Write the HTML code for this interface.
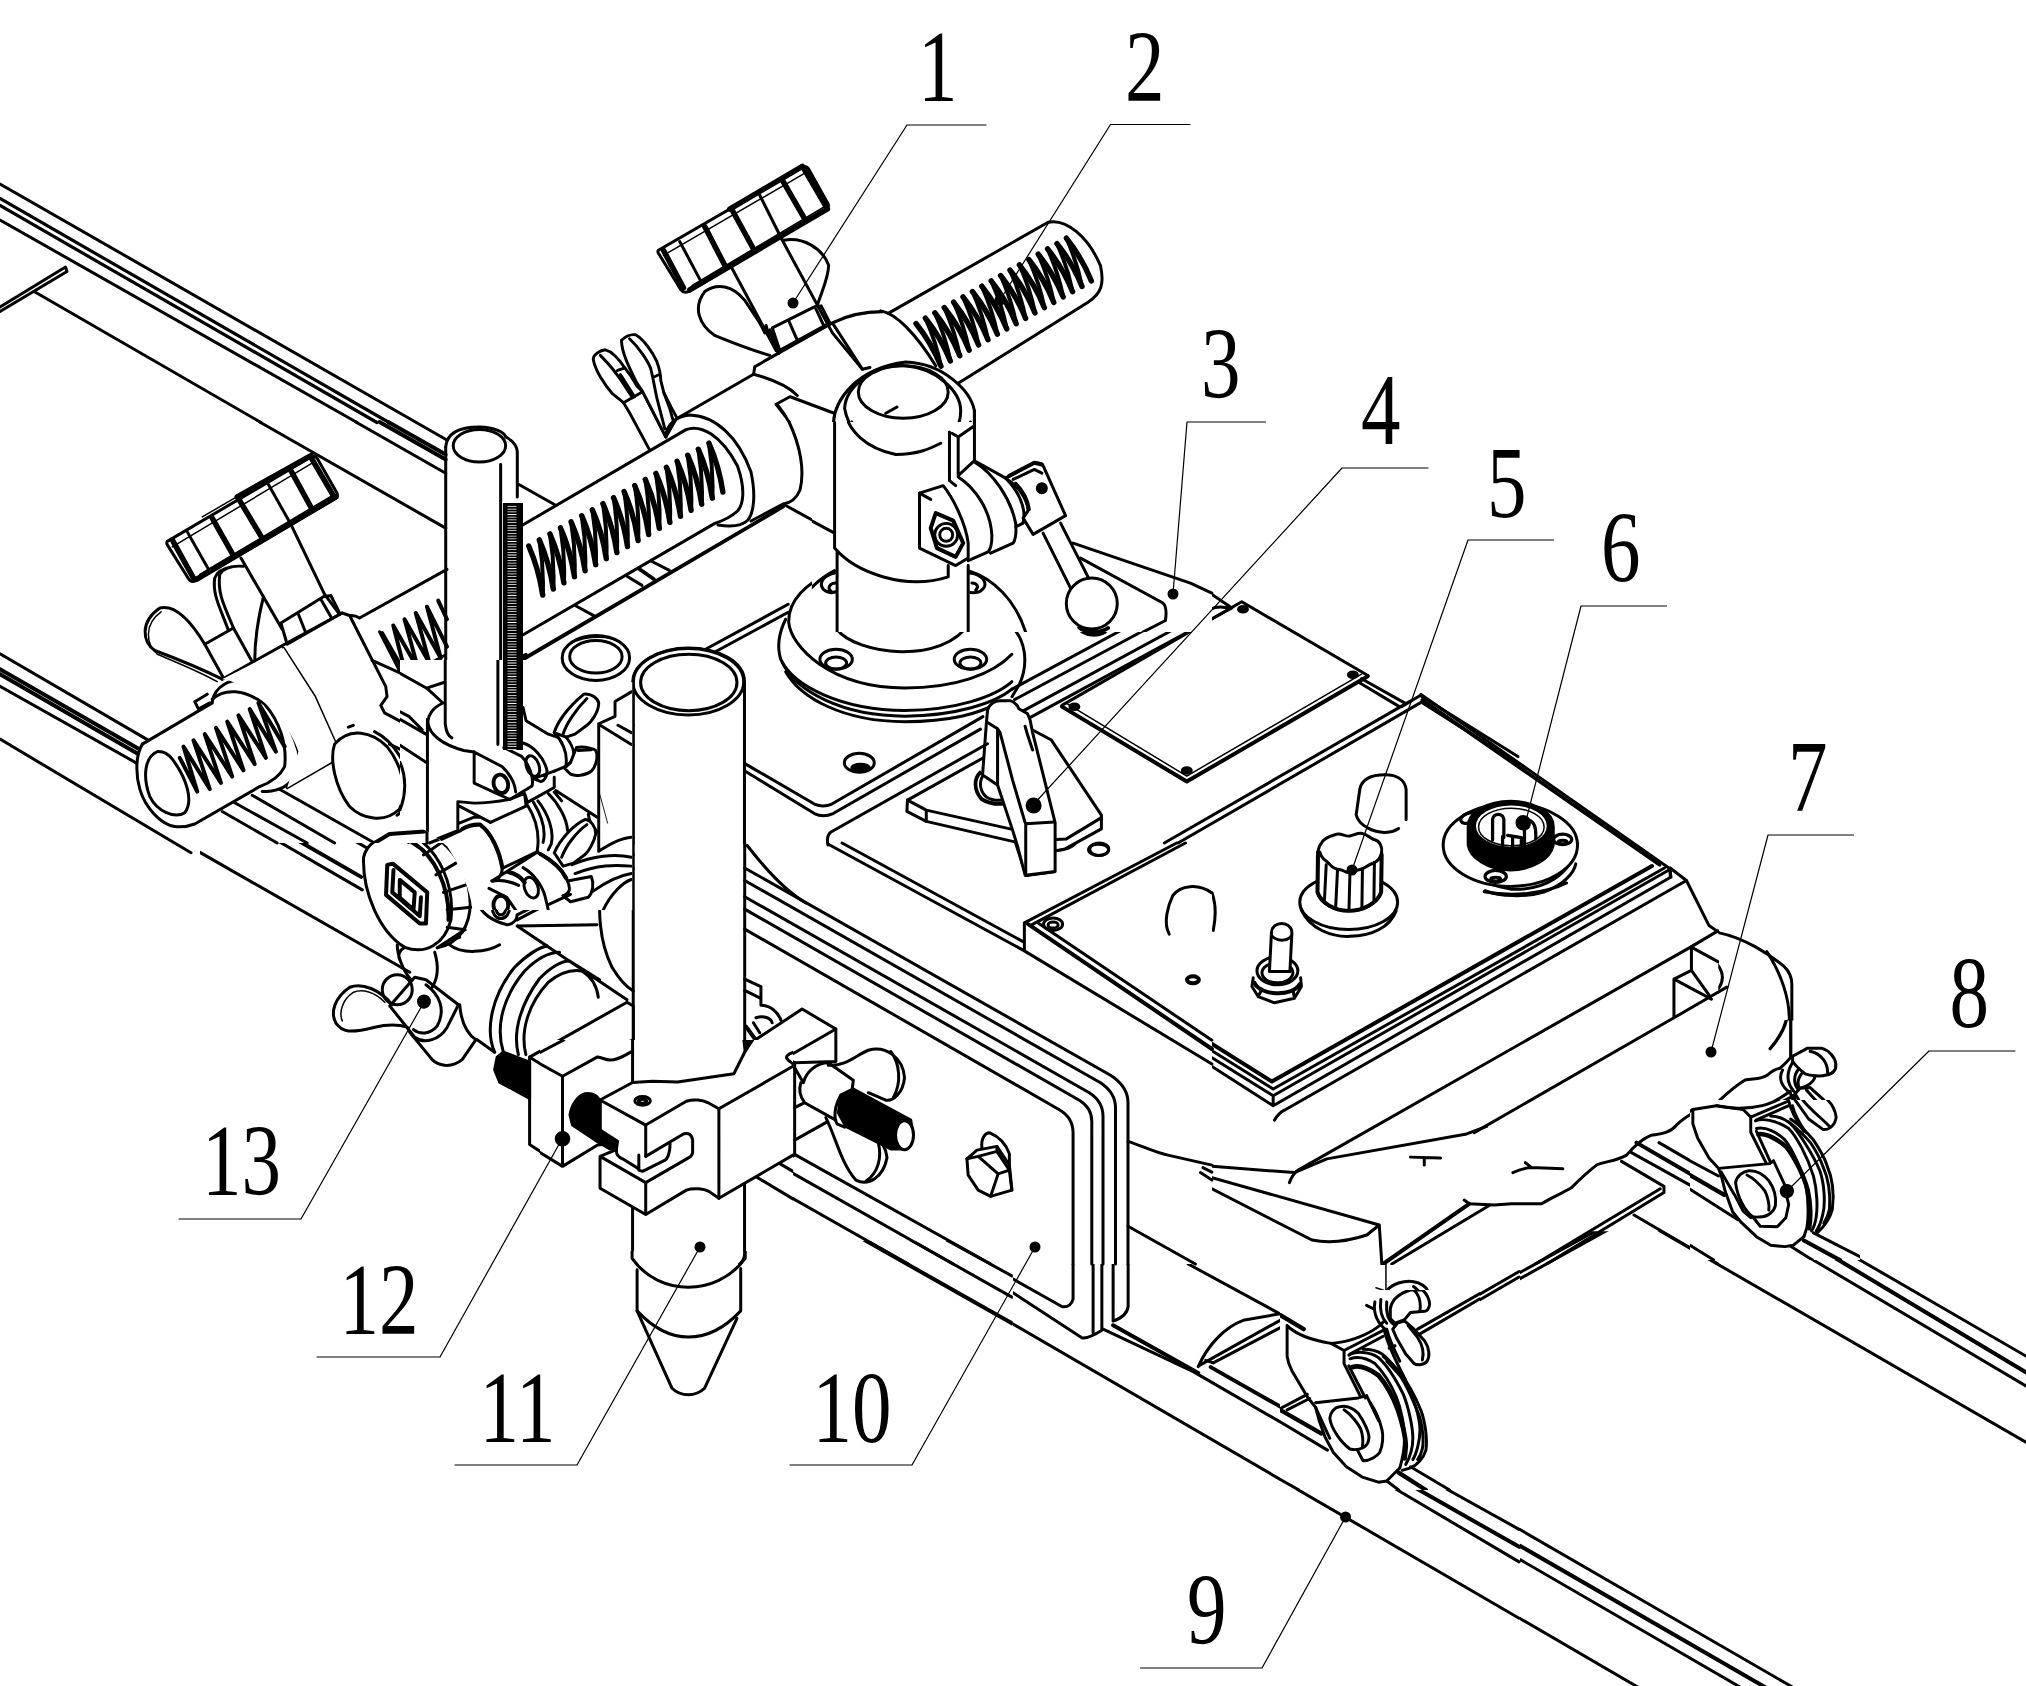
<!DOCTYPE html>
<html><head><meta charset="utf-8"><title>Figure</title>
<style>
html,body{margin:0;padding:0;background:#fff;}
svg{display:block}
.l{fill:none;stroke:#000;stroke-width:3;stroke-linecap:round;stroke-linejoin:round}
.t{fill:none;stroke:#000;stroke-width:1.2;stroke-linecap:round;stroke-linejoin:round}
.k{fill:none;stroke:#000;stroke-width:3.8;stroke-linecap:round;stroke-linejoin:round}
.z g, .z{fill:none;stroke:#000;stroke-width:12;stroke-linecap:round;stroke-linejoin:round}
.z .k{stroke-width:16}
.z .h{stroke-width:6}
.z .w{fill:#fff}
.z .b{fill:#000}
.w{fill:#fff}
text{font-family:"Liberation Serif","DejaVu Serif",serif;font-size:102px;fill:#000;stroke:none}
</style></head><body>
<svg width="2026" height="1686" viewBox="0 0 2026 1686">
<rect width="2026" height="1686" fill="#fff"/>
<!-- 10_rails_topleft.svg -->
<g class="l">
<path d="M0,184 L446,439.5 M0,220 L357,422.5 M35,292 L261,422.5 M0,307 L65.5,267 L67,271.5 L0,311.5"/>
<path d="M0,198.5 L389,422.5 M0,205.5 L377,422.5" style="stroke-width:3.2"/>
</g>

<!-- 11_tile_507_0.svg -->
<clipPath id="c11"><path d="M0,0 H2030 V843 H796 V1690 H0 Z"/></clipPath>
<g class="z" transform="translate(507 0) scale(0.2503)">
<!-- knob 1 -->
<path d="M605,1000 L1180,668 Q1195,660 1205,675 L1283,815 Q1288,832 1272,840 L725,1165 Q705,1172 695,1158 L607,1015 Q600,1006 605,1000 Z"/>
<path class="k" style="stroke-width:22" d="M625,1000 L705,1150 M790,905 L870,1060 M900,840 L985,995 M1100,720 L1190,875 M1185,672 L1275,825 M730,1158 L1280,835 M890,835 L1180,665"/>
<path class="h" d="M740,1140 L1270,825 M625,1020 L1185,695"/>
<path d="M690,965 L770,1115 M1010,780 L1100,960 L1300,1330 L1420,1475 M895,1065 L1075,1400"/>
<!-- wing nut -->
<path d="M1050,1420 C950,1390 880,1360 830,1340 C770,1300 740,1230 790,1165 C840,1130 900,1140 950,1200 L1010,1290 L1030,1330"/>
<path d="M1105,960 C1180,945 1260,990 1285,1060 C1285,1110 1255,1170 1240,1220"/>
<path d="M1010,1290 L1045,1340 L1035,1300"/>
<!-- hex nut -->
<path d="M1060,1310 L1230,1225 L1255,1222 L1290,1290 L1090,1400 Z M1125,1280 L1160,1360 M1230,1225 L1265,1300"/>
<path class="k" d="M1050,1320 L1085,1410"/>
<!-- bracket -->
<path d="M990,1465 L1060,1425 L1300,1290 C1360,1260 1420,1245 1500,1245 M990,1465 L985,1495 C1040,1510 1120,1540 1160,1580 M985,1495 L686,1668 M1300,1290 L1420,1475 L1450,1468 M1075,1615 L1130,1585 M1075,1615 L1110,1660"/>

</g>

<!-- 12_tile_706_211.svg -->
<clipPath id="c12"><rect x="0" y="0" width="2030" height="845"/></clipPath>
<g class="z" clip-path="url(#c12)" transform="translate(706 211) scale(0.2497)">
<!-- upper right rod -->
<path d="M730,410 L1370,45 C1440,30 1530,100 1580,220 C1595,290 1585,330 1530,365 L1010,690"/>
<!-- connector block -->
<path d="M700,400 C760,410 840,490 920,620 M340,745 L500,805 L515,810 M285,775 C330,830 380,920 390,1020 C390,1100 350,1160 290,1180 L0,1350"/>
<!-- column top -->
<path class="w" d="M510,860 C510,760 600,630 800,605 C950,610 1060,720 1075,800 L1075,1000 L515,1000 Z"/>
<path d="M555,790 C560,700 680,610 800,620 C920,630 1020,720 1020,800 C1020,850 1000,880 985,890 M555,790 C570,880 640,950 760,975 C850,975 900,950 940,930"/>
<ellipse cx="790" cy="725" rx="180" ry="105"/>
<path d="M720,810 L765,785 M515,860 L515,1000 M1075,800 L1075,1000 M975,885 L975,1000 M1010,905 L1010,1000 M985,890 L1010,905 L1075,860"/>
</g>

<!-- 13_wingnut_small.svg -->
<g class="z" transform="translate(560 310) scale(0.1008)" style="stroke-width:29">
<path class="w" d="M330,490 C330,440 400,400 450,395 C510,410 580,480 640,570 L700,650 L760,750 L820,810 L630,920 L520,830 C440,740 350,600 330,490 Z"/>
<path d="M400,450 C470,520 560,620 640,750 L720,870 M570,600 L630,580 M600,640 L740,860 M630,920 L690,1020 L890,1390 M820,810 L1050,1260"/>
<path class="w" d="M610,300 C650,260 700,240 750,245 C830,290 920,420 960,510 C990,590 1000,660 1000,700 L1030,820 L1100,960 L1160,1070 L1050,1260 L820,810 L760,720 C690,580 610,420 610,300 Z"/>
<path d="M690,285 C780,370 870,500 900,580 L920,670 L985,640 M920,670 L960,870 L1040,1180 M1030,820 L1090,980 L1120,1090"/>
</g>

<!-- 21_tile_0_422.svg -->
<g class="z" transform="translate(0 422) scale(0.2497)">
<!-- rails -->
<path d="M0,928 L590,1272 M0,1058 L545,1365 M0,1270 L765,1725"/>
<path class="k" d="M0,990 L560,1312 M0,1010 L550,1328"/>
<path d="M1040,0 L1785,425 M1425,0 L1785,205"/>
<path class="k" d="M1520,0 L1785,150 M1555,0 L1785,130"/>
<path d="M890,1560 L1110,1686 M1010,1495 L1340,1686 M940,1525 L1230,1686 M1100,1460 L1500,1686"/>
<path class="k" d="M1500,1686 L1560,1650 L1700,1640"/>
<!-- knob 2 -->
<path d="M670,478 L1245,140 Q1262,132 1272,148 L1350,285 Q1355,300 1340,308 L785,635 Q765,645 755,628 L672,495 Q665,485 670,478 Z"/>
<path class="h" d="M810,380 L1120,200 M800,610 L1335,292 M690,500 L1250,165"/>
<path class="k" style="stroke-width:22" d="M690,472 L775,625 M850,385 L935,535 M960,315 L1050,465 M1165,195 L1250,350 M1250,150 L1338,300 M790,628 L1345,300 M950,300 L1245,135"/>
<path d="M750,440 L835,590 M1075,250 L1165,410 L1300,690 L1360,770 M965,545 L1130,830"/>
<!-- hex nut -->
<path d="M1125,805 L1295,700 L1325,695 L1360,765 M1150,890 L1370,765 M1125,805 L1150,890 M1195,770 L1225,845 M1285,710 L1325,780"/>
<!-- wing nut -->
<path d="M890,1030 C800,985 700,945 620,915 C570,880 560,800 640,745 C700,730 760,790 820,890"/>
<path class="h" d="M870,1040 C790,995 700,960 630,930 C585,890 575,810 645,760"/>
<path d="M935,825 C900,740 870,690 880,610 C900,580 940,575 975,578 M915,835 C880,740 850,690 860,625 C870,600 900,585 930,580"/>
<path d="M820,890 L935,825 L1010,960 M820,890 L895,1025 M1055,700 C1030,800 1020,880 1020,960"/>
<!-- block -->
<path d="M890,1030 L1140,890 L1370,765 L1400,775 L1545,1060 L1550,1100 L1525,1135 L1540,1165 L1700,1250 M1135,905 L1260,1100 L1345,1290 M1400,775 Q1420,772 1440,785 L1790,590"/>
<!-- spring right -->
<path class="k" d="M1530,845 L1625,1010 L1575,815 L1675,990 L1620,790 L1720,965 L1665,765 L1765,945 L1710,740 L1790,900 M1755,715 L1790,790"/>
<path d="M1520,840 L1610,1015 M1490,955 L1780,1085 M1640,1010 L1780,935"/>
<!-- sleeve left -->
<path style="stroke:none;fill:#fff" d="M570,1290 L850,1125 C860,1060 920,1020 1000,1040 C1090,1090 1160,1200 1195,1320 C1200,1420 1160,1480 1050,1480 L1040,1460 L780,1610 Q740,1625 700,1620 C640,1610 580,1540 560,1470 C545,1420 540,1340 570,1290 Z"/>
<path d="M570,1290 L850,1125 M700,1620 Q740,1625 780,1610 L1040,1460"/>
<path d="M570,1290 C540,1340 545,1420 560,1470 C580,1540 640,1610 700,1620"/>
<path d="M630,1320 C580,1340 570,1420 600,1500 C630,1560 700,1590 740,1565 C775,1520 750,1430 690,1350 C670,1325 650,1318 630,1320 Z"/>
<path class="k" d="M720,1345 L790,1480 L735,1300 L840,1470 L775,1275 L885,1445 L820,1250 L930,1420 L865,1225 L975,1395 L910,1200 L1020,1370 L955,1175 L1065,1345 L1000,1150 L1105,1320 L1035,1125 L1140,1300"/>
<path d="M850,1120 C860,1060 920,1020 1000,1040 C1090,1090 1160,1200 1195,1320 C1200,1420 1160,1480 1050,1480"/>
<path d="M850,1110 C900,1065 980,1070 1060,1130 C1120,1200 1150,1290 1140,1380 C1120,1420 1080,1445 1040,1460"/>
<path d="M780,1120 L830,1090 M780,1120 L795,1150 L840,1125"/>
<path d="M1150,1465 L1330,1360"/>
<path style="stroke:none;fill:#fff" d="M1150,1465 L1330,1360 L1345,1290 L1260,1100 L1135,905 L890,1030 C1000,1040 1160,1200 1195,1320 Z"/>
<!-- round knob -->
<path class="w" d="M1340,1290 C1320,1350 1340,1460 1400,1540 C1450,1590 1540,1610 1600,1550 C1640,1470 1600,1360 1550,1300 C1490,1240 1400,1220 1340,1290 Z"/>
<path d="M1500,1240 C1580,1280 1640,1380 1640,1470 C1640,1530 1615,1560 1590,1575 M1395,1222 L1415,1215"/>
<path d="M1600,1560 L1710,1625 M1560,1290 L1705,1360"/>
<!-- small tube & clamp -->
<path d="M1785,100 L1785,1230 M2005,170 L2005,1290"/>
<ellipse cx="1920" cy="95" rx="105" ry="65"/>
<path d="M1785,100 C1790,40 1850,20 1920,20 C1980,22 2020,40 2026,60"/>
<path d="M1780,1100 C1740,1130 1715,1160 1710,1200 L1710,1686 M1785,1140 C1765,1200 1785,1250 1815,1265 M1700,1250 C1760,1300 1830,1320 1900,1330 L1900,1480 L2026,1550 M1900,1330 L2026,1400"/>
<circle cx="2005" cy="1450" r="30"/>
<path d="M1835,1520 L1835,1640 M1835,1520 L1960,1600 M1835,1640 L1720,1686 M1860,1650 C1900,1640 1940,1650 1960,1686"/>
</g>

<!-- 22_tile_506_422.svg -->
<g class="l">
<!-- sleeve of main spring (global coords) -->
<path d="M521,526 L686,429.6 C701,424 721,435 737.5,466 C746,490 743,505 737.5,511 C730,518 722,521 714.8,523.4 L521,636"/>
<path d="M665.8,437 C666,425 676,416 690,415 C715,416 738,436 751,472 C757,500 752,515 748,520 C742,526 730,527 718,525"/>
<path d="M575.6,605.8 L593.7,615.6 M627,576.3 L642,585.4 M651,561 L669.4,570.3"/>
<path class="k" d="M522.6,659.5 L783,506.7 M639,568.7 L654,579.3"/>
<path d="M506,437 C513,441 517,446 517.3,452 L517.3,497 M518,484 L554.4,504.5"/>
<!-- big connector cylinder right of flange -->
<path d="M789,422 C800,445 805,470 800,490 C796,500 790,503 783,504 L751,521 M783,504 L834,532"/>
</g>
<g class="z" transform="translate(506 422) scale(0.2497)">
<!-- plate lines -->
<path d="M790,915 L1130,730 M820,930 L1130,762 M80,930 L0,975"/>
<!-- oval hole -->
<ellipse cx="360" cy="945" rx="135" ry="90"/><ellipse cx="360" cy="940" rx="105" ry="65"/>
<path class="h" d="M240,905 C280,860 400,845 460,885"/>
<!-- torch tube top -->
<path class="w" d="M510,1686 L510,1040 C510,960 620,905 730,905 C850,905 955,960 955,1040 L955,1686"/>
<ellipse cx="730" cy="1040" rx="222" ry="133"/><ellipse cx="732" cy="1043" rx="193" ry="113"/>
<!-- column -->
<path d="M1315,0 L1315,590 C1400,640 1600,675 1760,620 L1760,230 M1325,600 L1325,830 C1400,930 1750,980 1860,800 L1860,570"/>
<path d="M1385,0 C1420,90 1600,135 1745,95"/>
<!-- flange -->
<path d="M1315,600 C1200,640 1130,720 1132,800 C1140,900 1300,1065 1597,1065 C1800,1065 1950,1010 2026,930"/>
<path d="M1120,790 C1090,850 1085,900 1100,950 C1150,1060 1350,1155 1597,1155 C1800,1155 1960,1100 2026,1040"/>
<path d="M1105,960 C1160,1080 1350,1178 1597,1178 C1800,1178 1960,1125 2026,1070 M1120,1000 C1180,1105 1350,1200 1597,1200 C1780,1200 1900,1165 1960,1130"/>
<ellipse cx="1322" cy="950" rx="65" ry="40"/><ellipse cx="1322" cy="965" rx="42" ry="24"/>
<ellipse cx="1860" cy="950" rx="65" ry="40"/><ellipse cx="1860" cy="965" rx="42" ry="24"/>
<path d="M1315,600 C1270,610 1250,640 1270,665 C1285,680 1305,680 1320,675 M1320,640 C1295,640 1285,660 1300,672"/>
<path d="M1860,600 C1900,605 1925,630 1915,655 C1905,675 1880,680 1860,678 M1865,640 C1885,640 1895,655 1880,668"/>
<!-- clamp ear + nut -->
<path class="w" d="M1650,285 L1755,250 L1800,270 C1850,330 1885,450 1860,560 L1800,592 L1650,500 Z"/>
<path d="M1650,285 L1800,370 M1775,45 L1775,245 M1775,45 L1800,70 L1860,30 L1860,0 M1800,70 L1805,200 L1830,230 L1870,160 L2026,215 M1870,160 L1890,130 L2026,60 M1830,230 C1900,280 1940,380 1945,500 L1860,560 M1945,500 L2026,455"/>
<path class="k" d="M1722,365 L1700,430 L1730,500 L1800,535 L1838,470 L1795,395 Z"/>
<circle cx="1767" cy="450" r="48"/><circle cx="1767" cy="450" r="28"/>
<path d="M1760,590 L1790,570 L1810,595"/>
<!-- mounting plate -->
<path d="M960,1370 L1235,1530 Q1270,1545 1305,1530 L1910,1180 M960,1400 L1235,1568 Q1270,1585 1310,1568 L1900,1230"/>
<ellipse cx="1415" cy="1365" rx="60" ry="38"/><ellipse class="b" cx="1420" cy="1385" rx="35" ry="14"/>
<!-- torch holder block left -->
<path d="M370,1210 L370,1686 M370,1210 L430,1180 L510,1215 M435,1120 L435,1180 M435,1120 L510,1080 M370,1215 L510,1295 M380,1500 C380,1580 390,1620 405,1660"/>
<!-- small wing screw -->
<path d="M200,1240 C215,1170 260,1110 310,1090 C350,1095 370,1120 360,1150 C340,1200 300,1240 255,1275 M225,1245 C240,1180 280,1125 320,1100"/>
<path d="M255,1275 C240,1290 245,1330 270,1345 M230,1290 C215,1310 225,1350 250,1370 M270,1345 L330,1300 M250,1370 C290,1420 340,1410 360,1380 L360,1320 L300,1300"/>
<path d="M60,1310 L180,1240 L230,1290 M0,1340 C40,1320 100,1330 120,1380 C130,1420 110,1450 90,1460 M190,1400 L100,1460 L0,1500 M190,1400 L250,1370 M70,1350 C110,1340 140,1380 125,1420"/>
<path d="M0,1560 L180,1470 L190,1400 M60,1530 L75,1560 L0,1600 M120,1500 C200,1520 260,1600 260,1686 M80,1560 C150,1580 190,1640 190,1686 M300,1560 C340,1600 360,1650 360,1686 M0,1600 C60,1610 110,1650 130,1686 M440,1686 C460,1675 480,1668 510,1665"/>
<path d="M60,1180 L170,1245"/>
</g>

<!-- 23_tile_1012_422.svg -->
<g class="z" transform="translate(1012 422) scale(0.2497)">
<!-- lever bracket + arm + ball -->
<path d="M0,215 L80,165 Q105,160 120,172 L215,375 L80,450 L45,385 M0,195 L75,150 M120,440 L235,660 M195,410 L305,620 M0,250 C40,290 50,330 48,365 L75,350 L60,300"/>
<circle class="b" cx="118" cy="262" r="17"/>
<circle cx="318" cy="730" r="102"/>
<path class="k" d="M268,822 C290,850 350,855 380,830"/>
<path d="M262,815 C270,860 370,870 388,822"/>
<path d="M0,820 C50,870 70,960 30,1050 L0,1100 M0,700 C20,720 30,740 35,770"/>
<!-- plate corner -->
<path d="M245,483 L710,640 C770,665 830,710 880,745 M270,540 L600,720 Q618,735 612,790 L10,1112 M612,740 L0,1070 M800,748 L30,1165 M875,748 L70,1185 M800,748 C815,738 850,738 875,748"/>

<!-- cover plate -->
<path d="M200,1135 L920,720 L1425,1015"/>
<path class="k" d="M200,1140 L700,1440 L1425,1018"/>
<path class="h" d="M215,1125 L700,1418 L1400,1010"/>
<ellipse class="b" cx="925" cy="750" rx="18" ry="11"/><ellipse class="b" cx="1365" cy="1012" rx="18" ry="11"/><ellipse class="b" cx="700" cy="1396" rx="18" ry="11"/><ellipse class="b" cx="250" cy="1140" rx="18" ry="11"/>
<!-- panel edges -->
<path d="M1385,1040 L1548,1138 M1400,1028 L1572,1125 M1560,1140 L1635,1095 L2026,1340 M1640,1122 L2026,1368 M1595,1118 L610,1686 M1640,1122 L665,1686"/>
</g>

<!-- 24_column.svg -->
<rect x="812" y="422" width="400" height="210" fill="#fff"/>
<clipPath id="c24"><rect x="424" y="845" width="1610" height="841"/></clipPath>
<g class="z" clip-path="url(#c24)" transform="translate(706 211) scale(0.2497)">
<!-- left connector continuing -->
<path d="M285,775 C330,830 380,920 390,1020 C390,1100 350,1160 290,1180 L0,1350 M310,1180 L515,1290"/>
<!-- flange + base seen below -->
<path d="M330,1686 C350,1600 400,1500 515,1440 M300,1686 L320,1640 M1050,1440 C1150,1470 1240,1560 1280,1686"/>
<path d="M515,1450 C470,1460 450,1490 470,1515 C485,1530 505,1530 520,1525 M520,1490 C495,1490 485,1510 500,1522"/>
<path d="M1055,1450 C1100,1455 1125,1480 1115,1505 C1105,1525 1080,1530 1060,1528 M1065,1490 C1085,1490 1095,1505 1080,1518"/>
<!-- column body -->
<path d="M515,845 L515,1350 C600,1450 800,1520 970,1465 L970,1420 L1050,1420 L1050,1700 L525,1700 L525,1360 Z" style="fill:#fff;stroke:none"/>
<path d="M515,845 L515,1350 C600,1450 800,1520 970,1465 L970,1420 M1050,1420 L1050,1686 M525,1360 L525,1686"/>
<path d="M555,800 C570,880 640,950 760,975 C850,975 900,950 940,930 M1075,845 L1075,1000 L1010,1060 L1010,905 L1075,860 M975,885 L975,1080 L1000,1100 M985,890 L1010,905"/>
<!-- ear rings -->
<path d="M1010,1065 C1080,1110 1140,1200 1145,1300 C1145,1340 1135,1360 1130,1365 L1050,1400 M1075,1005 C1150,1050 1220,1150 1240,1250 C1245,1300 1235,1325 1230,1330 L1140,1370 M1075,1000 L1200,1070 L1310,1010 M1200,1070 C1250,1120 1285,1190 1270,1250 L1240,1265"/>
<!-- ear front -->
<path class="w" d="M855,1130 L950,1100 C990,1150 1040,1250 1050,1330 L1050,1390 L1000,1420 L855,1350 Z"/>
<path class="k" d="M920,1210 L900,1270 L925,1350 L1000,1385 L1030,1330 L990,1240 Z"/>
<circle cx="962" cy="1297" r="46"/><circle cx="962" cy="1297" r="26"/>
<path d="M855,1130 L900,1155"/>
<!-- lever bracket -->
<path class="w" d="M1200,1070 L1310,1010 Q1340,1005 1350,1020 L1440,1220 L1310,1295 L1270,1230 L1290,1200 C1285,1150 1250,1100 1200,1070 Z"/>
<path class="k" d="M1215,1060 L1315,1008 L1345,1015"/>
<path d="M1230,1075 L1315,1035 L1345,1050 M1240,1090 C1270,1120 1290,1160 1295,1195"/>
<circle class="b" cx="1345" cy="1110" r="18"/>
<path d="M1350,1290 L1460,1510 M1420,1250 L1535,1475"/>
<circle class="w" cx="1545" cy="1572" r="102"/>
<path class="k" d="M1495,1668 C1520,1690 1580,1692 1610,1670"/>
<!-- plate -->
<path d="M1470,1330 L1940,1490 L2026,1530 M1500,1390 L1830,1570 Q1848,1585 1840,1640 L1750,1686"/>
</g>

<!-- 31_tile_200_780.svg -->
<clipPath id="c31"><rect x="0" y="252" width="2030" height="1440"/></clipPath>
<g class="z" clip-path="url(#c31)" transform="translate(200 780) scale(0.2497)">
<!-- rails passing -->
<path d="M80,110 L650,440 M235,25 L700,290 M0,290 L840,770 M-100,188 L240,28"/>
<path class="k" d="M145,100 L645,388"/>
<!-- knob 13 handwheel -->
<path class="w" d="M655,310 C670,240 760,200 860,225 C960,290 1020,420 1005,560 C980,660 900,700 820,670 C720,610 650,450 655,310 Z"/>
<path d="M830,215 C900,190 980,230 1050,350 C1090,450 1095,540 1050,610 C1020,650 990,665 950,672"/>
<path d="M835,250 L900,205 M895,300 L975,245 M945,380 L1030,330 M975,450 L1065,420 M990,520 L1085,510 M990,590 L1062,600 M1000,640 L1040,630"/>
<path class="k" d="M780,215 L850,195 M850,250 C940,300 1000,430 995,560"/>
<path class="k" d="M750,340 L772,335 L910,450 L905,575 L880,575 L745,460 Z M775,360 L770,450 L880,545 L885,470 M800,400 L860,450 L855,520 L800,470 Z"/>
<path d="M950,672 L1000,640 L1060,600 M790,660 C790,700 810,760 845,800 M940,690 C955,740 955,790 930,830 M820,670 C800,680 790,700 800,720"/>
<!-- shaft -->
<path d="M975,245 L1090,185 C1150,190 1200,260 1210,370 L1185,420 L1085,475 M1205,290 L1310,225 M1040,85 L1040,185 M1040,85 L1160,150 L1085,185 M1040,90 C1100,100 1180,90 1250,70"/>
<path d="M1310,90 C1350,70 1420,120 1470,230 C1490,300 1480,360 1450,400 M1350,80 C1400,50 1480,100 1530,200 C1560,260 1565,310 1560,340 M1310,90 L1310,225 M1300,60 L1400,0 M1420,40 L1480,0 M1420,40 C1500,50 1560,110 1590,200 C1600,260 1590,300 1570,330"/>
<path d="M1350,150 C1390,200 1400,260 1395,310 M1380,120 C1430,170 1450,250 1440,320 M1440,320 L1570,250 M1500,100 C1540,130 1570,170 1580,200"/>
<!-- link arm -->
<path d="M1105,450 L1150,420 L1320,340 M1105,450 C1100,510 1150,560 1230,580 C1260,575 1270,555 1270,540 L1440,455 M1270,560 L1480,450 C1520,440 1560,420 1580,390 M1320,340 C1380,350 1400,400 1390,450"/>
<ellipse cx="1205" cy="510" rx="35" ry="45"/><ellipse cx="1205" cy="512" rx="20" ry="28"/>
<ellipse cx="1330" cy="420" rx="28" ry="40"/><path d="M1280,370 C1300,350 1340,350 1360,380"/>
<path d="M1460,340 C1500,330 1550,350 1580,400 C1560,460 1500,480 1460,470 M1520,380 C1600,330 1680,310 1735,300 M1540,420 C1600,380 1680,360 1735,355 M1590,270 C1620,240 1680,225 1735,225 M1640,170 C1620,120 1600,60 1590,0 M1180,0 C1200,40 1240,50 1250,20 M1100,0 L1180,60 L1300,0"/>
<path d="M1735,0 L1735,1210 M910,0 L910,200"/>
<!-- left lobes top -->
<path d="M560,0 C600,80 680,150 760,140 C820,100 830,40 810,0 M240,30 C300,50 340,30 370,0 M730,145 L910,200"/>
<path class="k" d="M760,215 L900,190"/>
<!-- wing nut 13 -->
<path d="M770,900 C720,840 650,810 600,830 C540,870 520,930 545,975 C570,1010 600,1015 700,990 C760,975 800,980 830,990"/>
<path class="h" d="M740,890 C700,850 650,835 615,850 C570,880 555,930 570,965"/>
<circle cx="790" cy="840" r="60"/>
<path d="M760,905 L860,790 L905,800 L1035,900 L990,990 C960,1040 900,1060 860,1030 L760,905 M905,820 C960,860 985,920 950,985 C920,1020 880,1020 855,1000"/>
<circle class="b" cx="897" cy="887" r="22"/>
<path d="M1040,900 C1045,960 1060,1010 1105,1040 L1050,1120 C1000,1160 950,1140 930,1120 L840,1010 M1110,1040 L1180,1090"/>
<!-- big ringed cylinder -->
<path d="M1180,1090 C1140,1000 1170,860 1260,750 C1310,700 1360,670 1390,665 M1215,1090 C1180,980 1220,860 1300,765 C1360,705 1410,690 1440,690 M1275,1100 C1250,1000 1290,890 1360,795 C1420,735 1460,725 1480,725 M1305,1100 C1280,1000 1320,890 1395,810 C1450,765 1500,760 1530,765"/>
<path d="M1270,585 L1710,880 M1000,660 C1050,700 1150,690 1200,660 M1390,665 L1270,585 M1480,725 L1600,800 M1530,765 C1570,790 1590,830 1595,870 M1610,400 C1590,520 1600,650 1650,750 C1680,800 1710,830 1735,845 M1590,580 L1270,585"/>
<!-- block 12 -->
<path class="w" d="M1320,1110 L1710,890 L1735,905 L1735,1040 L1450,1190 L1450,1545 L1320,1460 Z"/>
<path d="M1320,1110 L1450,1190 M1450,1545 L1600,1465 M1600,1100 C1650,1120 1700,1100 1735,1085"/>
<circle class="b" cx="1450" cy="1437" r="22"/>
<path class="b" d="M1215,1090 L1320,1130 L1320,1275 L1200,1210 L1180,1160 L1190,1110 Z"/>
<path class="b" d="M1490,1300 C1510,1260 1560,1250 1590,1285 L1595,1400 L1665,1440 L1665,1485 L1560,1425 L1500,1385 Z"/>
<!-- torch clamp -->
<path d="M1600,1300 L1730,1215 L2026,1190 M1600,1300 L1780,1390 L2026,1285 M1780,1390 L1780,1500 M1600,1300 L1600,1400"/>
<ellipse cx="1770" cy="1283" rx="30" ry="18"/>
<path d="M1665,1485 L1680,1512 L1780,1500 L1870,1450 L1900,1420 L1960,1420 Q1985,1450 1960,1490 L1870,1540 L1790,1572 L1760,1560 L1640,1500 L1600,1530 L1600,1620 L1690,1686 M1790,1572 L1790,1686 M1760,1560 L1760,1500 M1870,1450 L1870,1500 L1790,1540 M1900,1580 C1950,1560 2000,1560 2026,1570 M1800,1640 L2026,1600"/>
</g>

<!-- 32_tile_706_843.svg -->
<g class="z" transform="translate(706 843) scale(0.2497)">
<!-- torch tube right edge -->
<path d="M155,0 L155,830 M155,1370 L155,1640 Q155,1670 135,1686"/>
<!-- side plate stacked lines -->
<path d="M165,10 C250,120 330,200 400,240"/>
<path d="M155,100 L1620,930 Q1690,975 1690,1040 L1690,1686 M155,150 L1580,960 Q1640,1000 1640,1060 L1640,1686 M155,215 L1535,1000 Q1590,1035 1590,1095 L1590,1686 M155,265 L1495,1030 Q1545,1060 1545,1115 L1545,1686 M155,345 L1415,1068 Q1470,1100 1470,1160 L1470,1686"/>
<!-- body ridge and panel corner -->
<path d="M490,5 L1275,432 L1275,320 M545,0 L1275,398 M1275,432 L2026,885 M1275,320 L1885,0 M1300,330 L1920,0"/>
<path class="k" d="M1290,325 L2026,825"/>
<path d="M1330,320 L2026,790"/>
<ellipse cx="1390" cy="325" rx="38" ry="25"/><ellipse cx="1390" cy="328" rx="20" ry="12"/>
<ellipse cx="1950" cy="548" rx="24" ry="14" class="k"/>
<path d="M1855,365 C1830,320 1850,250 1870,210 C1900,170 1970,160 2026,200"/>
<path d="M1240,0 L1282,130 L1395,115 L1390,0 M1290,0 L1290,130 M1400,30 C1440,30 1470,15 1480,0"/>
<ellipse cx="1575" cy="25" rx="38" ry="25"/>
<!-- holder clamp block -->
<path class="w" d="M0,940 L110,925 L180,800 L385,665 L520,745 L520,875 L355,880 L355,1250 L55,1420 L0,1390 Z"/>
<path d="M320,860 L520,745 M320,860 L355,880 M0,1045 L55,1070 L355,900 M55,1070 L55,1420 M155,830 L180,800"/>
<path d="M155,545 L220,575 L220,650 M155,590 L215,620 M220,650 C260,650 290,680 300,710 M200,700 C230,690 260,700 265,720 M190,720 L215,760"/>
<path class="k" d="M160,735 L200,790"/>
<!-- wing screw -->
<path d="M390,960 C400,920 440,880 490,880 L590,950 L585,990 L540,1010 C515,1050 510,1100 525,1125 L555,1138 M355,900 L390,960 M355,1190 L480,1120 M380,960 C370,990 380,1020 395,1040 L520,1110 M355,1060 L395,1040"/>
<path class="b" d="M540,1010 L590,985 L820,1110 L830,1170 L790,1225 L740,1225 L560,1135 L530,1080 Z"/>
<ellipse class="w" cx="795" cy="1170" rx="36" ry="58"/>
<path d="M490,890 C560,895 600,850 650,830 C720,810 790,860 795,940 C790,1000 750,1035 720,1030 L650,1000 M740,835 C775,880 785,960 750,1020"/>
<path d="M480,1100 C520,1180 540,1280 600,1350 C650,1375 710,1340 725,1260 C720,1220 700,1190 680,1170 M690,1200 C705,1260 690,1320 640,1355"/>
<!-- hex bolt -->
<path class="w" d="M1045,1265 L1085,1230 L1165,1215 L1215,1290 L1225,1390 L1140,1415 L1090,1390 L1050,1330 Z"/>
<path d="M1165,1215 L1165,1235 L1090,1255 L1045,1265 M1165,1235 L1215,1310 L1225,1390 M1215,1310 L1170,1325 L1140,1415 M1170,1325 L1090,1255 M1105,1222 C1100,1180 1120,1160 1135,1160 C1170,1175 1200,1200 1215,1245 L1215,1290"/>
<!-- bottom plate lines -->
<path d="M360,1250 L1140,1686 M290,1290 L990,1686 M200,1340 L810,1686"/>
<path d="M1690,1195 C1750,1215 1800,1240 1850,1250 L2026,1290 M1690,1535 L1960,1686 M1980,1320 L2026,1350 M1990,1300 L2026,1318"/>
</g>

<!-- 33_tile_1212_843.svg -->
<clipPath id="c33"><rect x="0" y="0" width="2030" height="1690"/></clipPath>
<g class="z" clip-path="url(#c33)" transform="translate(1212 843) scale(0.2497)">
<!-- toggle -->
<ellipse cx="262" cy="512" rx="82" ry="56"/><ellipse cx="262" cy="520" rx="62" ry="40"/>
<path d="M165,540 L160,575 L185,615 L250,640 L330,622 L358,575 L355,540 M185,615 L200,585 M330,622 L325,590"/>
<path class="k" d="M170,560 C190,610 320,620 352,565"/>
<path class="w" d="M238,360 L230,515 L312,515 L320,360 C320,310 238,310 238,360 Z"/>
<path d="M240,372 C260,395 300,395 318,372"/>
<path d="M0,200 C15,240 15,300 5,350"/>
<!-- knob 6 bottom part -->
<path d="M930,0 C940,80 1050,160 1200,185 C1330,190 1440,130 1465,0 M1090,195 C1200,215 1330,205 1420,160"/>
<path class="b" d="M1030,0 C1050,60 1120,100 1200,102 C1280,100 1350,60 1365,0 Z"/>
<ellipse cx="1138" cy="135" rx="40" ry="25"/><ellipse cx="1138" cy="138" rx="16" ry="10"/>
<path d="M1380,0 C1400,10 1430,10 1450,0"/>
<!-- panel frame -->
<path class="k" d="M0,805 L240,955 L1762,92"/>
<path d="M0,832 L245,985 L1812,100 M0,860 L245,1012 L1830,108 M0,895 L245,1052 L1835,138 L1835,100 M245,1012 L245,1052 M1835,100 L1900,150 L1990,330 L2026,355"/>
<path d="M250,1110 C265,1085 280,1075 290,1070 L1900,150"/>
<!-- body -->
<path d="M310,1360 C320,1335 330,1320 345,1310 L1920,415 L2026,352 M1050,1160 L1850,700 L2026,598"/>
<path d="M1850,545 L1850,700 M1850,545 L1920,510 L1920,415 M1850,545 L2000,625 M1920,510 L1995,615 M1925,420 L2026,475"/>
<!-- torn edges -->
<path d="M0,1295 L330,1320 L460,1265 L1020,1165 L1100,1135"/>
<path d="M2026,1040 C1950,1065 1900,1090 1860,1130 C1830,1165 1790,1165 1760,1170 C1720,1185 1690,1215 1660,1250 C1620,1275 1570,1275 1540,1290 C1500,1320 1470,1350 1440,1380 C1400,1405 1360,1420 1320,1445 L1200,1445 L1130,1450 L1030,1445 L1010,1430"/>
<path d="M795,1258 L915,1262 M850,1262 L850,1290 M1205,1320 C1240,1305 1260,1300 1280,1300 L1405,1305 M1255,1280 L1280,1300"/>
<!-- lower body -->
<path d="M0,1340 L670,1530 L680,1686 M0,1385 L400,1590 Q500,1610 620,1570 L670,1530"/>
<path class="k" d="M685,1686 L1030,1445"/>
<path d="M720,1686 L1110,1452 M1340,1686 L1810,1400 L1810,1375 L1640,1275 M1295,1686 L1795,1385 M1790,1200 L2026,1337 M1680,1240 L2026,1432 M1690,1490 L2026,1686 M1930,1070 C1925,1110 1930,1140 1945,1160 L2026,1330"/>
<path class="k" d="M1700,1200 L2026,1390"/>
</g>

<!-- 34_tile_wheel8.svg -->
<clipPath id="c34a"><rect x="796" y="0" width="1300" height="705"/></clipPath>
<g class="z" clip-path="url(#c34a)" transform="translate(1519 844) scale(0.2503)">
<path d="M690,150 L775,335 L800,355 C900,375 1000,440 1060,490 Q1090,520 1090,560 L1090,850"/>
<path d="M990,430 C1050,520 1080,620 1080,700 C1060,770 1030,800 1000,820"/>
<path d="M700,415 C820,470 850,550 760,610 M625,690 L830,572 M0,1050 L625,690"/>
</g>
<clipPath id="c34b"><rect x="464" y="0" width="3000" height="1700"/></clipPath>
<g class="z" clip-path="url(#c34b)" transform="translate(1660 1020) scale(0.1251)" style="stroke-width:24">
<path d="M1045,0 L1045,290 M1010,0 C990,80 940,160 880,230" style="stroke-width:26"/>
<path d="M0,910 C60,890 120,830 200,750 C240,720 280,705 430,685 C500,620 580,540 680,480 C740,465 800,480 860,440 C900,400 930,390 960,385 C1000,350 1030,320 1050,290"/>
<path class="w" d="M1060,290 L1180,225 L1290,225 C1350,240 1400,300 1405,350 C1410,400 1380,430 1330,440 C1280,455 1200,445 1160,430 C1120,400 1080,360 1060,330 Z"/>
<path d="M1200,250 C1290,270 1340,340 1340,420"/>
<path d="M980,400 C940,470 980,540 1040,580 M1060,340 C1010,420 1010,500 1070,570 M1110,390 C1060,450 1070,520 1110,560 M1140,420 C1095,470 1100,510 1110,540 M1240,450 C1230,500 1170,535 1120,545"/>
<path class="w" d="M1120,545 L1200,540 L1300,630 L1390,730 C1415,790 1400,850 1370,860 C1340,885 1300,880 1250,840 L1180,740 L1110,640 L1080,590 Z"/>
<path d="M1170,560 L1260,660 L1330,760 C1350,800 1355,830 1345,850"/>
<path d="M1040,580 C1080,680 1120,800 1150,900 M1070,600 C1100,700 1120,800 1130,870"/>
<path d="M470,690 C600,715 750,715 870,670 C940,640 1000,600 1040,570"/>
<path d="M270,710 C250,800 280,880 300,920 L380,1080 L470,1200 L490,1300 L540,1440 L590,1560 L700,1686 M470,1195 L870,1150 L900,1130 M650,735 L720,790 L1040,620 M750,810 L1040,650 M720,790 L720,890 L840,1150 L1000,1420 M750,880 L870,1150 M430,685 L650,735 M490,1200 L600,1420"/>
<path d="M760,790 C900,760 1050,850 1200,1000 C1300,1150 1390,1350 1390,1500 C1390,1600 1360,1650 1340,1686 M760,815 C900,790 1040,870 1180,1020 C1280,1150 1350,1350 1350,1500 C1350,1600 1320,1650 1300,1686 M780,900 C880,890 1000,980 1110,1120 C1190,1250 1230,1400 1230,1500 C1230,1600 1215,1650 1200,1686 M800,930 C880,930 980,1020 1080,1160 C1150,1280 1190,1420 1190,1520 C1190,1610 1175,1650 1160,1686"/>
<path style="stroke-width:34" d="M770,870 C900,850 1020,940 1140,1090 C1230,1230 1270,1400 1270,1500 C1270,1600 1250,1650 1230,1686"/>
<path class="w" d="M610,1300 C640,1230 720,1200 780,1210 C880,1250 960,1400 1030,1560 C1040,1620 1000,1670 960,1690 L860,1690 C760,1620 640,1480 610,1300 Z"/>
<path d="M700,1250 C750,1225 800,1240 870,1330 C910,1420 920,1500 900,1540 C880,1590 820,1600 770,1580 C700,1530 640,1420 630,1300 C650,1270 670,1260 700,1250 Z M740,1260 C800,1310 860,1420 870,1470 C875,1520 870,1545 860,1560"/>
<circle class="b" cx="1020" cy="1370" r="45"/>
<path d="M0,990 L470,1260 M0,1220 L560,1530"/>
<path style="stroke-width:32" d="M0,1100 L520,1400"/>
</g>

<!-- 41_tile_1520_1200.svg -->
<clipPath id="c41"><rect x="0" y="125" width="2030" height="1900"/></clipPath>
<g class="z" clip-path="url(#c41)" transform="translate(1520 1200) scale(0.2497)">
<path d="M1180,135 L2026,625 M1090,190 L2026,745 M450,60 L2026,970 M0,290 L530,0 M0,315 L550,10 M730,0 L870,75"/>
<path class="k" d="M1150,165 L2026,690"/>
<path class="w" d="M830,0 C850,80 950,170 1040,187 C1100,190 1150,150 1230,100 C1255,60 1260,30 1260,0 Z"/>
<path d="M880,0 C900,50 950,100 1020,105 C1060,90 1080,50 1082,0 M900,0 C920,40 950,70 1000,72 C1020,50 1022,20 1020,0 M1135,160 C1150,100 1160,50 1160,0 M1165,140 C1180,100 1190,50 1192,0 M1190,125 C1215,90 1235,40 1240,0"/>
<path d="M0,1320 L1180,2002 M0,1440 L970,2002 M0,1676 L560,2002"/>
<path class="k" d="M0,1385 L1070,2002"/>
</g>

<!-- 42_tile_1013_1264.svg -->
<clipPath id="c42"><rect x="0" y="0" width="2030" height="1700"/></clipPath>
<g class="z" clip-path="url(#c42)" transform="translate(1013 1264) scale(0.2503)">
<!-- rails -->
<path d="M0,240 L2022,1415 M360,260 L720,430 L1290,760 L1480,870 L2022,1190 M1590,820 L2022,1060"/>
<path class="k" d="M400,245 L740,435 M790,412 L1230,662 M1530,850 L2022,1130"/>
<!-- side plate corner -->
<path d="M0,60 L195,170 Q230,175 240,140 L240,0 M0,115 L275,295 Q300,300 355,265 L355,0 M320,0 L320,275 M400,0 L400,228 M460,0 L460,170 Q455,210 400,228"/>
<!-- body underside -->
<path d="M700,0 L1160,250 M740,410 C780,320 850,250 920,225 L1060,200 M745,405 L1085,215 M800,395 L1095,240 M770,385 L800,395 M1100,230 L1100,380 C1130,450 1180,520 1210,580 C1230,640 1250,700 1290,760"/>
<path d="M1100,240 C1180,300 1300,320 1400,295 C1440,280 1465,265 1480,250 M1330,350 L1480,268 M1090,570 L1180,530 M1110,600 L1200,555 M1210,550 L1400,530 L1420,560"/>
<!-- wheel -->
<path class="w" d="M1210,570 C1220,680 1270,780 1360,840 C1440,880 1520,870 1545,820 C1570,740 1560,620 1530,560 C1490,460 1420,400 1340,390 L1330,350 L1330,400 L1400,530 Z"/>
<path d="M1330,350 L1330,400 L1400,530 L1460,640 L1480,720 M1350,380 L1420,520"/>
<path d="M1265,620 C1270,580 1310,560 1340,570 C1400,600 1440,680 1430,710 C1420,750 1380,750 1360,745 C1310,720 1270,670 1265,620 Z M1290,600 C1320,580 1370,620 1395,710"/>
<path d="M1360,420 C1420,460 1470,540 1490,680 C1490,740 1460,790 1420,790 C1370,790 1330,750 1300,720"/>
<path d="M1420,350 C1500,390 1580,490 1640,620 C1665,700 1650,780 1600,820 M1400,370 C1480,410 1550,510 1600,640 C1620,720 1610,770 1590,800"/>
<path class="k" d="M1440,400 C1520,470 1575,580 1585,700 C1585,770 1570,810 1550,830"/>
<!-- wing nut -->
<path class="w" d="M1490,110 C1520,70 1600,50 1650,95 C1675,130 1660,165 1640,170 C1600,190 1550,185 1520,175 Z"/>
<path class="w" d="M1530,240 L1580,230 L1640,290 C1670,340 1670,380 1650,390 C1620,405 1590,385 1570,360 L1530,300 L1500,260 Z"/>
<path d="M1600,90 C1630,110 1640,140 1635,165 M1590,255 C1620,290 1645,340 1645,385"/>
<path d="M1440,180 C1440,140 1460,120 1490,110 M1470,200 C1470,160 1485,140 1510,130 M1480,240 C1480,280 1495,310 1510,330 M1510,130 C1490,170 1500,215 1530,240 M1455,215 C1460,270 1480,310 1500,340"/>
<path class="h" d="M1490,0 L1490,110 M1410,165 L1440,180 M1450,95 L1480,105"/>
<path d="M1615,265 L2022,30 M1625,282 L2022,52"/>
</g>

<!-- 43_tile_506_1201.svg -->
<clipPath id="c43"><rect x="0" y="160" width="2030" height="1700"/></clipPath>
<g class="z" clip-path="url(#c43)" transform="translate(506 1201) scale(0.2497)">
<path d="M505,0 L505,230 C560,310 650,345 730,345 C810,345 900,310 958,230 L958,0"/>
<path d="M525,275 L525,440 C600,520 670,545 730,545 C800,545 870,515 940,440 L940,270"/>
<path d="M525,440 L665,750 C700,785 760,785 795,750 L925,470"/>
<path d="M1345,0 L2026,385 M1480,0 L2026,300"/>
<path class="k" d="M1160,0 L2026,490"/>
</g>

<!-- 50_clamp8x.svg -->
<rect x="540" y="1040" width="253" height="211" fill="#fff"/>
<clipPath id="c50"><rect x="0" y="0" width="2024" height="1688"/></clipPath>
<g class="z" clip-path="url(#c50)" transform="translate(540 1040) scale(0.1251)" style="stroke-width:24">
<path d="M740,0 L740,335 M740,1340 L740,1700 M1635,1150 L1635,1700 M0,100 L190,0"/>
<path d="M0,190 L180,290 L460,135 C500,140 520,160 560,160 C640,160 690,110 740,90 M180,290 L180,1010 M0,900 L180,1010 L460,840 L500,835"/>
<circle class="b" cx="180" cy="790" r="50"/>
<path class="b" d="M240,600 C250,520 300,450 360,430 C420,420 470,450 480,500 L480,720 L620,810 L610,880 L560,870 L440,800 L260,680 Z"/>
<path d="M480,480 L740,340 L900,330 L1100,335 L1550,270 L1640,90 L1690,0 M480,480 L845,680 L1170,490 C1230,470 1300,480 1340,500 L1430,550 L2022,210"/>
<ellipse cx="820" cy="487" rx="62" ry="35"/><ellipse cx="820" cy="490" rx="34" ry="16"/>
<path d="M480,480 L480,720 M845,680 L845,930 M1430,550 L1430,1265"/>
<path d="M845,930 L1150,750 Q1210,735 1220,800 L1220,900 Q1215,930 1190,940 L845,1140 M1040,830 C1040,900 1020,950 1000,960 L820,1050 L790,1040 L790,920 M610,880 C610,920 630,940 660,950 L790,1030"/>
<path d="M480,930 L845,1140 L845,1395 L480,1185 Z M845,1395 L1170,1200 C1230,1180 1310,1190 1350,1210 L1430,1265 L2022,920 M480,930 L600,880"/>
<path class="b" d="M1630,0 L1700,0 L1640,90 Z"/>
<path d="M2022,100 C1990,110 1960,130 1975,150 C1990,170 2010,180 2022,190 M1730,1095 L2022,1270 M1920,990 L2022,1050"/>
</g>

<!-- 51_socket6.svg -->
<g class="z" transform="translate(1400 720) scale(0.1251)" style="stroke-width:24">
<path d="M680,1365 C800,1410 1000,1420 1150,1375 C1300,1320 1390,1230 1405,1150"/>
<ellipse class="w" cx="882" cy="1000" rx="537" ry="330"/>
<ellipse cx="545" cy="785" rx="62" ry="38" transform="rotate(-20 545 785)" style="stroke-width:26"/>
<ellipse cx="1300" cy="955" rx="72" ry="42" style="stroke-width:26"/><ellipse cx="1300" cy="975" rx="35" ry="14"/>
<ellipse cx="765" cy="1250" rx="85" ry="47" style="stroke-width:26"/><ellipse cx="765" cy="1272" rx="40" ry="15"/>
<path class="b" d="M545,850 L545,1000 C560,1100 700,1195 880,1200 C1060,1195 1200,1110 1225,1000 L1225,850 C1225,740 1070,650 885,650 C700,650 545,740 545,850 Z"/>
<ellipse class="w" cx="890" cy="848" rx="290" ry="172" style="stroke-width:14"/>
<ellipse cx="890" cy="855" rx="262" ry="150" style="stroke-width:12"/>
<path style="stroke-width:26" d="M740,960 L740,795 C745,740 825,740 830,795 L830,940 M995,870 L995,1000 M1030,800 C1070,815 1090,850 1085,950 M820,930 L820,1010 M900,940 L900,1020 M860,922 L970,940 L970,1012"/>
<circle class="b" cx="985" cy="822" r="50"/>
</g>

<!-- 52_knob5_paneledge.svg -->
<g class="l">
<path class="k" d="M1422.4,700 L1659.6,864.7"/>
<path d="M1421,694.4 L1669.6,868.5 L1671,877"/>
</g>
<g class="z" transform="translate(1300 600) scale(0.2497)">
<!-- slot U -->
<path d="M425,880 L425,760 C420,715 380,700 340,700 C290,700 250,715 240,755 L225,860 C235,905 300,935 350,930 C370,928 385,922 395,915"/>
<!-- knob 5 -->
<ellipse class="w" cx="195" cy="1210" rx="196" ry="110"/>
<path d="M5,1240 C40,1320 130,1350 200,1347 C290,1345 360,1310 385,1245"/>
<path class="w" d="M85,975 C95,955 120,945 140,940 C165,930 180,950 200,945 C220,940 235,930 250,935 C275,940 285,960 300,960 C320,965 330,990 327,1010 L325,1170 C310,1220 250,1245 195,1245 C140,1245 80,1215 70,1170 L72,1010 C75,990 75,985 85,975 Z"/>
<path class="k" d="M72,1010 L70,1170 C85,1215 140,1245 195,1245 C250,1245 310,1215 325,1170 L327,1020"/>
<path d="M80,1010 C85,1040 110,1045 120,1060 C140,1085 160,1075 175,1085 C195,1100 215,1085 235,1080 C260,1080 270,1060 290,1055 C310,1050 325,1030 327,1010"/>
<path d="M105,1060 L98,1200 M150,1085 L143,1228 M200,1095 L196,1243 M250,1080 L248,1232 M298,1050 L296,1205"/>
</g>

<!-- 53_wheel8.svg -->
<rect x="1690" y="1100" width="170" height="160" fill="#fff"/>
<clipPath id="c53"><rect x="0" y="0" width="1791" height="1686"/></clipPath>
<g class="z" clip-path="url(#c53)" transform="translate(1690 1100) scale(0.09492)" style="stroke-width:31">
<path d="M0,640 L300,800 M0,940 L500,1260 M0,1530 L250,1686 M1300,1400 L1791,1650 M1060,1540 L1290,1686"/>
<path style="stroke-width:44" d="M0,790 L360,1000 M1200,1480 L1580,1686"/>
<path d="M0,120 L30,100 L280,60 M280,60 C400,90 600,100 760,60 C880,30 960,-20 1040,-60 M1100,-10 L1250,200 L1400,310 C1470,320 1530,260 1540,180 C1530,110 1500,50 1450,0 M1180,-10 C1280,120 1400,200 1470,280"/>
<path d="M30,100 L30,250 L80,400 L200,610 L300,720 L330,800 L370,960 L450,1180 L540,1290 L700,1440 L850,1530 L1000,1545 L1090,1530 L1200,1440"/>
<path d="M300,720 L840,670 L880,640 M330,760 L470,1000 L560,1170 L640,1240 M280,60 L560,100 L640,180 L1040,10 M700,210 L1040,60 M640,180 L640,340 L800,660 M880,640 L1000,900 M700,330 L850,660 M1040,10 C1060,100 1120,220 1200,330 M1080,60 C1100,150 1150,240 1220,340"/>
<path d="M480,870 C490,800 560,750 620,745 C700,740 780,790 830,850 C880,920 910,1020 900,1110 C890,1170 820,1230 760,1230 C720,1235 680,1235 660,1230 C580,1170 500,1030 480,870 Z M600,790 C680,830 760,920 790,960 C820,1020 840,1110 830,1160"/>
<path d="M660,1230 L740,1330 L920,1335 L1010,1240 L1040,1100 L1020,1020"/>
<path d="M700,300 C800,280 920,340 1000,420 C1080,520 1180,740 1220,900 C1250,1050 1250,1250 1230,1350 L1200,1440"/>
<path style="stroke-width:48" d="M720,360 C800,350 940,420 1020,500 C1100,600 1200,800 1240,950 C1270,1080 1275,1250 1255,1350"/>
<path d="M690,220 C760,190 900,210 1040,300 C1120,380 1240,600 1300,800 C1340,950 1345,1130 1330,1230 C1320,1300 1300,1350 1280,1380 M850,170 C920,170 1000,200 1060,250 C1140,330 1300,580 1370,750 C1420,900 1425,1100 1400,1200 C1385,1270 1360,1340 1330,1380"/>
<path d="M1060,200 C1150,260 1240,350 1300,420 C1360,510 1420,620 1440,680 C1500,820 1520,1000 1500,1150 C1480,1230 1440,1310 1340,1400 M1040,230 C1120,290 1210,380 1270,450 C1330,540 1380,640 1400,700 C1460,830 1480,1000 1470,1150 C1455,1220 1430,1270 1410,1300"/>
<circle class="b" cx="1020" cy="960" r="60"/>
</g>

<!-- 54_handle4.svg -->
<clipPath id="c54"><rect x="0" y="0" width="2024" height="1688"/></clipPath>
<g class="z" clip-path="url(#c54)" transform="translate(900 680) scale(0.1251)" style="stroke-width:24">
<!-- base plate -->
<path class="w" d="M60,960 L660,625 L1060,400 L1210,480 L1610,1080 L1610,1190 L1320,1350 L1245,1365 L900,1290 L210,1130 L55,1050 Z"/>
<path d="M60,960 L210,1040 L880,1190 M210,1040 L210,1130 M1610,1100 L1330,1270 L1245,1275"/>
<path style="stroke-width:30" d="M640,740 C590,790 590,880 650,950 C700,985 760,995 830,990"/>
<path d="M660,770 C630,820 640,890 690,935 C730,960 780,965 820,960"/>
<!-- handle -->
<path class="w" d="M700,240 C715,190 760,165 800,165 L880,165 Q930,180 950,230 L1020,270 L1040,320 L1060,420 L1150,780 L1230,1100 L1240,1140 L1240,1530 L1005,1560 L1000,1560 L940,1330 L900,1200 L850,1050 L780,840 L660,760 L690,350 Z"/>
<path d="M700,340 L780,390 L800,420 L900,800 L1000,1140 M780,390 L780,840 M1000,370 L1020,440 L1060,560 M1005,1150 L1235,1135 M1005,1150 L1005,1560"/>
<circle class="b" cx="1068" cy="1003" r="52"/>
<ellipse cx="1587" cy="1357" rx="80" ry="45"/>
</g>

<!-- 55_misc.svg -->
<g class="l">
<path d="M987.5,743.7 L831,832 Q826,836 828,845"/>
</g>

<!-- 56_wheel2.svg -->
<rect x="1280" y="1290" width="200" height="200" fill="#fff"/>
<clipPath id="c56"><rect x="0" y="0" width="1686" height="1686"/></clipPath>
<g class="z" clip-path="url(#c56)" transform="translate(1280 1290) scale(0.11862)" style="stroke-width:25">
<path d="M0,1000 L230,880 M60,1010 L250,915 M0,1110 L400,1350 M1100,1490 L1430,1686 M900,1610 L1000,1686 M1160,330 L1686,30 M1180,370 L1686,75"/>
<path style="stroke-width:36" d="M0,1010 L350,1210 M1000,1540 L1230,1686 M0,210 L200,330"/>
<path d="M0,1596 L160,1686"/>
<path d="M60,300 C120,360 250,420 430,450 C600,440 750,370 840,300 L880,260 M60,300 L60,560 C70,620 90,660 100,680 L230,900 L300,990 L330,1100 L380,1240 L450,1370 L560,1490 L700,1580 L830,1620 L900,1610 L950,1560 L1010,1500"/>
<path d="M430,450 L540,510 L870,340 M590,540 L870,390 M540,510 L540,620 L680,900 M730,890 L830,1100 M580,640 L720,910 M300,950 L660,910 L730,890 M300,990 L420,1250"/>
<path d="M420,1080 C425,1030 460,990 500,985 C560,970 620,1000 660,1040 C710,1110 750,1200 750,1240 C750,1290 720,1320 700,1330 C660,1350 610,1345 590,1340 C520,1290 430,1170 420,1080 Z M540,1010 C600,1050 660,1130 680,1170 C700,1230 700,1290 695,1320"/>
<path d="M650,1345 L700,1440 C760,1440 820,1400 840,1370 C870,1310 870,1220 860,1180 C840,1090 800,1010 760,950"/>
<path d="M590,580 C660,555 740,580 800,620 C880,700 950,830 980,900 C1020,1000 1050,1150 1050,1250 C1050,1330 1040,1400 1010,1500"/>
<path style="stroke-width:40" d="M610,650 C680,630 770,670 830,720 C900,800 960,920 990,1000 C1020,1090 1060,1230 1060,1320 L1050,1420"/>
<path d="M580,550 C640,510 760,520 830,570 C920,650 1000,800 1040,880 C1080,980 1120,1150 1120,1250 C1120,1330 1090,1420 1060,1470 M700,500 C770,500 830,520 860,540 C940,600 1040,740 1080,820 C1130,920 1180,1080 1180,1180 C1180,1270 1150,1380 1120,1430"/>
<path d="M870,560 C930,610 980,660 1000,680 C1070,770 1150,920 1190,1020 C1220,1100 1245,1250 1230,1350 C1210,1420 1150,1480 1100,1500 L1030,1520 M900,600 C950,650 990,700 1010,720 C1060,790 1130,950 1170,1050 C1200,1130 1215,1270 1200,1340 C1190,1380 1175,1410 1160,1430"/>
<!-- wing nut -->
<path class="w" d="M930,160 C940,90 1000,30 1100,0 L1200,0 C1240,30 1265,90 1260,130 C1250,170 1230,180 1220,180 L1100,190 L1050,250 L970,280 L930,240 Z"/>
<path d="M1130,0 C1170,40 1190,100 1180,175"/>
<path class="w" d="M990,280 L1050,260 L1130,330 L1220,430 C1260,490 1265,560 1240,600 C1220,630 1160,640 1130,620 L1060,540 L980,400 L950,330 Z"/>
<path d="M1080,300 L1160,400 C1200,460 1215,530 1200,590"/>
<path d="M800,100 C780,200 830,290 900,340 M850,80 C835,200 870,250 900,280 M900,100 C890,220 930,270 960,290 M730,130 L790,160 M880,340 C900,430 960,570 1060,760 M900,330 C920,420 970,520 1010,600 M920,490 L970,470"/>
</g>

<!-- 57_midclamp.svg -->
<path transform="translate(400 660) scale(0.1483)" fill="#fff" d="M0,0 H1080 V150 H1566 V1686 H490 C470,1540 400,1380 320,1260 C220,1160 110,1105 0,1100 Z"/>
<clipPath id="c57"><path d="M0,0 H1080 V150 H1566 V1686 H490 C470,1540 400,1380 320,1260 C220,1160 110,1105 0,1100 Z"/></clipPath>
<g class="z" clip-path="url(#c57)" transform="translate(400 660) scale(0.1483)" style="stroke-width:20">
<!-- small tube + clamp body -->
<path d="M305,0 L305,430 C310,480 330,515 350,525 M660,0 L660,570"/>
<path d="M290,290 C220,320 180,380 190,430 C200,500 280,570 430,610 L500,620 M185,400 L185,1160 M0,90 L180,190 L300,150 M180,190 L290,290 M0,350 L60,380 L150,470 M0,400 L175,500 M0,575 L175,690 M0,690 C40,780 45,900 0,1010"/>
<!-- arm -->
<path d="M500,620 L500,830 L740,940 L890,850 C905,800 870,700 820,650 L700,590 M500,620 L690,720 C740,770 775,830 780,890"/>
<ellipse cx="680" cy="835" rx="48" ry="63" transform="rotate(-15 680 835)" style="stroke-width:26"/>
<ellipse cx="895" cy="715" rx="42" ry="72" transform="rotate(-20 895 715)"/>
<path d="M830,560 C900,580 970,660 990,740 C995,790 970,815 950,820 L900,800 M830,320 L850,410 L1000,500 L1060,520 M900,800 L1040,750 M1040,790 L1040,860 L860,960 L840,900 L740,940 M840,900 L850,980"/>
<!-- wing nut upper -->
<path class="w" d="M1040,490 C1060,420 1130,320 1240,230 C1290,225 1335,260 1340,290 C1340,350 1290,420 1260,440 L1180,500 L1120,520 Z"/>
<path d="M1100,500 C1120,430 1190,330 1260,260 M1040,490 C1090,540 1130,620 1120,700 M1120,520 C1160,570 1195,630 1150,690"/>
<path class="w" d="M1190,590 C1250,580 1310,600 1320,610 C1340,650 1320,720 1290,750 C1250,780 1180,785 1150,770 L1110,730 L1150,690 Z"/>
<path d="M1040,750 L1110,720 L1150,690 M1200,610 L1290,605"/>
<!-- block -->
<path d="M390,955 L390,1150 L190,1230 M390,955 L500,965 C580,965 660,955 740,940 M400,985 L610,1095 M400,1100 L500,1060 L540,1060 M280,1210 L410,1150"/>
<!-- big diagonal cylinder -->
<path style="stroke-width:28" d="M420,1140 C460,1115 500,1108 540,1110 C620,1170 670,1290 690,1400"/>
<path d="M690,1400 C690,1450 660,1490 620,1490 M860,980 C910,1060 945,1170 925,1290 M900,960 C955,1050 985,1150 965,1230 M930,950 C1000,1040 1040,1150 1020,1240 L1000,1280 M1000,900 C1070,970 1125,1070 1130,1150 M1040,890 L1090,950 M610,1095 L860,980 M620,1490 L920,1300 M700,1400 L930,1290 M1050,880 L1330,1060 M1270,1040 C1275,1090 1300,1130 1330,1160"/>
<!-- lower wing nut -->
<path class="w" d="M1040,1300 C1080,1210 1170,1110 1250,1075 C1290,1080 1320,1130 1320,1170 C1310,1230 1270,1290 1250,1310 L1170,1370 L1100,1390 Z"/>
<path d="M1090,1330 C1120,1250 1190,1160 1260,1110"/>
<path d="M930,1300 C1000,1330 1090,1400 1130,1490 C1150,1540 1150,1570 1100,1590 M830,1400 C900,1440 960,1520 980,1600 L1000,1686 M620,1490 C700,1480 760,1500 800,1520 M600,1540 L720,1600 L780,1686"/>
<ellipse cx="885" cy="1535" rx="45" ry="72" transform="rotate(-20 885 1535)"/>
<ellipse cx="680" cy="1650" rx="50" ry="60" style="stroke-width:26"/>
<path style="stroke-width:28" d="M950,1310 C1020,1350 1090,1410 1120,1470 M730,1430 C780,1440 820,1470 840,1500"/>
<path d="M1130,1490 L1290,1460 C1310,1510 1300,1570 1270,1600 L1150,1630 L1100,1590 M1000,1650 L1150,1580"/>
<!-- right block and torch tube -->
<path d="M1340,430 L1340,1290 M1340,430 L1450,380 L1450,280 L1560,215 M1350,440 L1560,570 M1470,440 L1560,490 M1340,1290 C1400,1250 1480,1200 1560,1195 M1160,1380 C1300,1320 1450,1305 1560,1330 M1180,1440 C1330,1380 1450,1380 1560,1390 M1300,1560 C1400,1490 1500,1450 1560,1440 M1370,1686 C1420,1580 1500,1500 1560,1480"/>
<path class="h" d="M1340,880 L1400,1100"/>
</g>
<!-- tiny spring portion inside patch -->
<g>
<path d="M513,660 L513,750" stroke="#000" stroke-width="18" fill="none"/>
<path d="M512,660 L512,748" stroke="#fff" stroke-width="9" fill="none" stroke-dasharray="0.8 1.9"/>
</g>

<!-- 60_springs.svg -->
<g id="springs">
<path d="M528.7 546.0 Q538.7 568.5 542.7 595.0 M539.3 539.9 Q549.3 562.5 553.3 589.0 M549.9 533.9 Q559.9 556.4 563.9 582.9 M560.5 527.8 Q570.5 550.3 574.5 576.8 M571.1 521.8 Q581.1 544.3 585.1 570.8 M581.7 515.7 Q591.7 538.2 595.7 564.7 M592.3 509.7 Q602.3 532.2 606.3 558.7 M602.9 503.6 Q612.9 526.1 616.9 552.6 M613.5 497.6 Q623.5 520.1 627.5 546.6 M624.1 491.5 Q634.1 514.0 638.1 540.5 M634.7 485.5 Q644.7 508.0 648.7 534.5 M645.3 479.4 Q655.3 501.9 659.3 528.4 M655.9 473.4 Q665.9 495.9 669.9 522.4 M666.5 467.3 Q676.5 489.8 680.5 516.3 M677.1 461.3 Q687.1 483.8 691.1 510.3 M687.7 455.2 Q697.7 477.7 701.7 504.2 M698.3 449.2 Q708.3 471.7 712.3 498.2 M708.9 443.1 Q718.9 465.6 722.9 492.1 " fill="none" stroke="#000" stroke-width="5.4" stroke-linecap="round"/>
<path d="M542.7 595.0 Q544.0 567.5 539.3 539.9 M553.3 589.0 Q554.6 561.4 549.9 533.9 M563.9 582.9 Q565.2 555.4 560.5 527.8 M574.5 576.8 Q575.8 549.3 571.1 521.8 M585.1 570.8 Q586.4 543.3 581.7 515.7 M595.7 564.7 Q597.0 537.2 592.3 509.7 M606.3 558.7 Q607.6 531.2 602.9 503.6 M616.9 552.6 Q618.2 525.1 613.5 497.6 M627.5 546.6 Q628.8 519.1 624.1 491.5 M638.1 540.5 Q639.4 513.0 634.7 485.5 M648.7 534.5 Q650.0 507.0 645.3 479.4 M659.3 528.4 Q660.6 500.9 655.9 473.4 M669.9 522.4 Q671.2 494.8 666.5 467.3 M680.5 516.3 Q681.8 488.8 677.1 461.3 M691.1 510.3 Q692.4 482.7 687.7 455.2 M701.7 504.2 Q703.0 476.7 698.3 449.2 M712.3 498.2 Q713.6 470.6 708.9 443.1 " fill="none" stroke="#000" stroke-width="4" stroke-linecap="round"/>
<path d="M916.0 323.5 Q931.5 342.9 941.0 366.3 M925.4 318.2 Q940.9 337.6 950.4 361.0 M934.8 312.8 Q950.3 332.3 959.8 355.7 M944.2 307.5 Q959.7 326.9 969.2 350.3 M953.6 302.2 Q969.1 321.6 978.6 345.0 M963.0 296.9 Q978.5 316.3 988.0 339.7 M972.4 291.5 Q987.9 310.9 997.4 334.3 M981.8 286.2 Q997.3 305.6 1006.8 329.0 M991.2 280.9 Q1006.7 300.3 1016.2 323.7 M1000.6 275.5 Q1016.1 294.9 1025.6 318.4 M1010.0 270.2 Q1025.5 289.6 1035.0 313.0 M1019.4 264.9 Q1034.9 284.3 1044.4 307.7 M1028.8 259.5 Q1044.3 279.0 1053.8 302.4 M1038.2 254.2 Q1053.7 273.6 1063.2 297.0 M1047.6 248.9 Q1063.1 268.3 1072.6 291.7 M1057.0 243.6 Q1072.5 263.0 1082.0 286.4 M1066.4 238.2 Q1081.9 257.6 1091.4 281.0 " fill="none" stroke="#000" stroke-width="5.4" stroke-linecap="round"/>
<path d="M941.0 366.3 Q936.2 342.2 925.4 318.2 M950.4 361.0 Q945.6 336.9 934.8 312.8 M959.8 355.7 Q955.0 331.6 944.2 307.5 M969.2 350.3 Q964.4 326.3 953.6 302.2 M978.6 345.0 Q973.8 320.9 963.0 296.9 M988.0 339.7 Q983.2 315.6 972.4 291.5 M997.4 334.3 Q992.6 310.3 981.8 286.2 M1006.8 329.0 Q1002.0 304.9 991.2 280.9 M1016.2 323.7 Q1011.4 299.6 1000.6 275.5 M1025.6 318.4 Q1020.8 294.3 1010.0 270.2 M1035.0 313.0 Q1030.2 288.9 1019.4 264.9 M1044.4 307.7 Q1039.6 283.6 1028.8 259.5 M1053.8 302.4 Q1049.0 278.3 1038.2 254.2 M1063.2 297.0 Q1058.4 273.0 1047.6 248.9 M1072.6 291.7 Q1067.8 267.6 1057.0 243.6 M1082.0 286.4 Q1077.2 262.3 1066.4 238.2 " fill="none" stroke="#000" stroke-width="4" stroke-linecap="round"/>
</g>

<!-- 61_tinyspring.svg -->
<g>
<path d="M513,503 L513,750" stroke="#000" stroke-width="18" fill="none"/>
<path d="M512,506 L512,750" stroke="#fff" stroke-width="9" fill="none" stroke-dasharray="0.8 1.9"/>
<path d="M504.5,503 L504.5,750 M521.5,503 L521.5,750" stroke="#000" stroke-width="3" fill="none"/>
</g>

<!-- 90_labels.svg -->
<g id="labels">
<path class="t" d="M907 125 L986 125 M907 125 L793 303"/>
<circle cx="793" cy="303" r="5.5" fill="#000"/>
<text transform="translate(918 101) scale(0.775 1)" x="0" y="0">1</text>
<path class="t" d="M1110.5 124.5 L1190 124.5 M1110.5 124.5 L1000 300"/>
<circle cx="1000" cy="300" r="5.5" fill="#000"/>
<text transform="translate(1125 101) scale(0.775 1)" x="0" y="0">2</text>
<path class="t" d="M1187 422 L1265.5 422 M1187 422 L1173 594"/>
<circle cx="1173" cy="594" r="5.5" fill="#000"/>
<text transform="translate(1201 397.5) scale(0.775 1)" x="0" y="0">3</text>
<path class="t" d="M1342 468 L1428 468 M1342 468 L1033 805"/>
<circle cx="1033" cy="805" r="5.5" fill="#000"/>
<text transform="translate(1361 444) scale(0.775 1)" x="0" y="0">4</text>
<path class="t" d="M1468 540 L1553.5 540 M1468 540 L1352 870"/>
<circle cx="1352" cy="870" r="5.5" fill="#000"/>
<text transform="translate(1487 517) scale(0.775 1)" x="0" y="0">5</text>
<path class="t" d="M1581 606 L1666.5 606 M1581 606 L1525 824.5"/>
<circle cx="1525" cy="824.5" r="5.5" fill="#000"/>
<text transform="translate(1601 582) scale(0.775 1)" x="0" y="0">6</text>
<path class="t" d="M1768 835 L1853.5 835 M1768 835 L1711 1052"/>
<circle cx="1711" cy="1052" r="5.5" fill="#000"/>
<text transform="translate(1788 811) scale(0.775 1)" x="0" y="0">7</text>
<path class="t" d="M1929 1051 L2015 1051 M1929 1051 L1788 1190"/>
<circle cx="1788" cy="1190" r="5.5" fill="#000"/>
<text transform="translate(1949.5 1026.5) scale(0.775 1)" x="0" y="0">8</text>
<path class="t" d="M1140.5 1668 L1262 1668 M1262 1668 L1345.5 1517"/>
<circle cx="1345.5" cy="1517" r="5.5" fill="#000"/>
<text transform="translate(1187 1643.5) scale(0.775 1)" x="0" y="0">9</text>
<path class="t" d="M790 1465 L912 1465 M912 1465 L1035 1247"/>
<circle cx="1035" cy="1247" r="5.5" fill="#000"/>
<text transform="translate(812.5 1442) scale(0.775 1)" x="0" y="0">10</text>
<path class="t" d="M455 1465 L577 1465 M577 1465 L700 1247"/>
<circle cx="700" cy="1247" r="5.5" fill="#000"/>
<text transform="translate(479.5 1442) scale(0.775 1)" x="0" y="0">11</text>
<path class="t" d="M317 1357 L440 1357 M440 1357 L562 1139"/>
<circle cx="562" cy="1139" r="5.5" fill="#000"/>
<text transform="translate(339.5 1334) scale(0.775 1)" x="0" y="0">12</text>
<path class="t" d="M179 1219 L301 1219 M301 1219 L423.5 1003"/>
<circle cx="423.5" cy="1003" r="5.5" fill="#000"/>
<text transform="translate(202 1195) scale(0.775 1)" x="0" y="0">13</text>
</g>

</svg></body></html>
